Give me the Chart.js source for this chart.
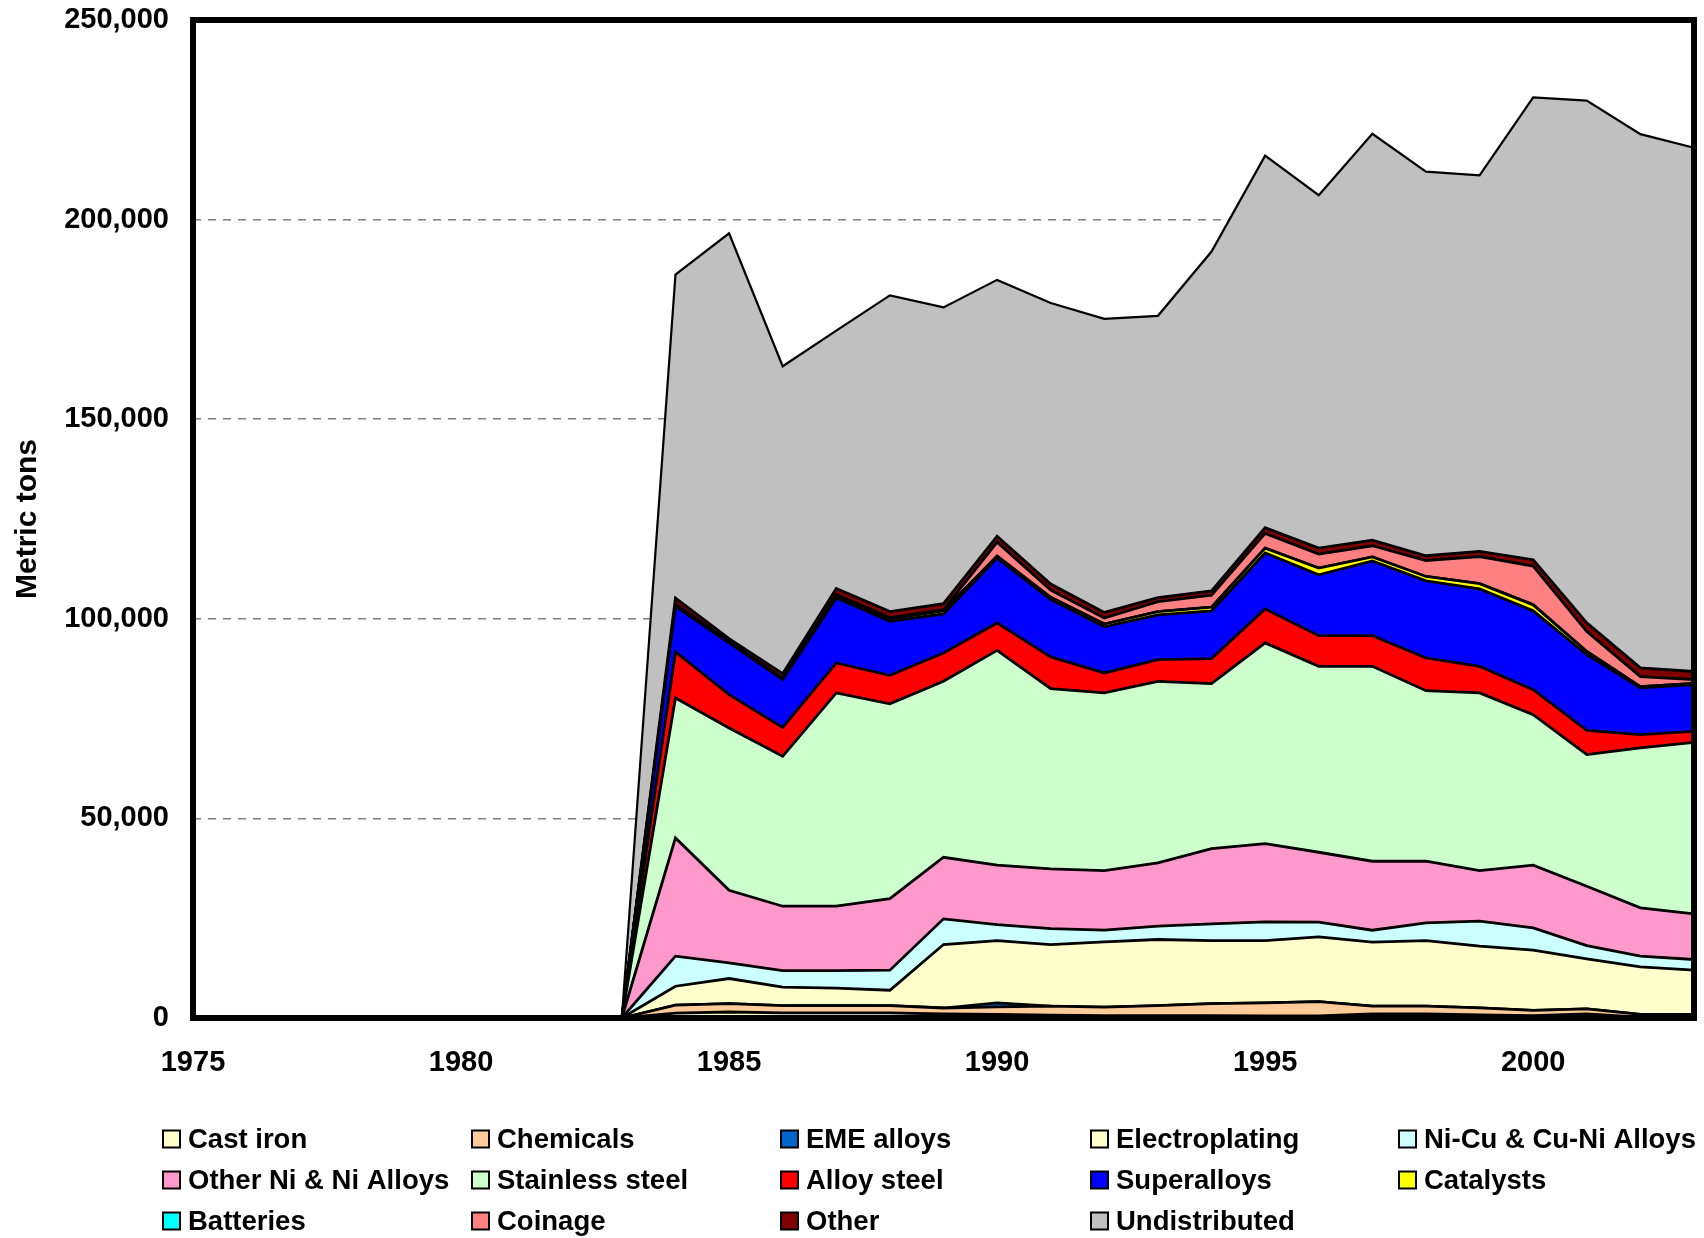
<!DOCTYPE html>
<html>
<head>
<meta charset="utf-8">
<script src="https://cdn.jsdelivr.net/npm/chart.js@4"></script>
<style>
  html, body { margin: 0; padding: 0; background: #ffffff; }
  canvas { display: block; }
</style>
</head>
<body>
<canvas id="c" width="1704" height="1238"></canvas>
<script>
// ---- Data (metric tons) ----
const years = ['1975','1976','1977','1978','1979','1980','1981','1982','1983',
  '1984','1985','1986','1987','1988','1989','1990','1991','1992','1993',
  '1994','1995','1996','1997','1998','1999','2000','2001','2002','2003'];

const zeros1975to1983 = [0,0,0,0,0,0,0,0,0];

const castIron = [...zeros1975to1983, 1200,1500,1300,1300,1300,1000,900,700,600,600,600,500,500,1000,1000,800,600,1000,200,200];
const chemicals = [...zeros1975to1983, 2000,2100,1800,1800,1800,1500,1900,2250,2100,2500,3000,3300,3600,1950,1950,1750,1300,1300,700,700];
const emeAlloys = [...zeros1975to1983, 0,0,0,0,0,0,1000,0,0,0,0,0,0,0,0,0,0,0,0,0];
const electroplating = [...zeros1975to1983, 4760,6290,4610,4360,3860,15900,15600,15450,16380,16560,15800,15600,16230,16040,16450,15430,15080,12520,11920,11070];
const niCuAlloys = [...zeros1975to1983, 7520,3920,4180,4430,5010,6440,4010,4010,2910,3330,4180,4680,3670,3000,4430,6270,5600,3330,2660,2680];
const otherNiAlloys = [...zeros1975to1983, 29640,18190,16110,16110,17950,15430,14860,14950,14910,15870,18860,19610,17520,17280,15440,12680,15690,14860,12110,11440];
const stainlessSteel = [...zeros1975to1983, 35060,40670,37560,53430,48760,44070,53830,45140,44530,45480,41320,50260,46570,48820,42730,44500,37730,32970,40060,42970];
const alloySteel = [...zeros1975to1983, 11520,8330,7240,7510,7160,7100,6850,7940,5010,5430,6260,8510,7690,7690,8190,6660,6260,6090,3340,2760];
const superalloys = [...zeros1975to1983, 11400,12950,11960,16260,13560,9760,16250,14360,11560,11230,11980,14040,15220,18720,19310,19410,19740,18930,11710,11680];
const catalysts = [...zeros1975to1983, 300,200,200,600,600,800,500,600,700,800,900,1200,1700,1000,1100,1300,1500,800,300,300];
const batteries = [...zeros1975to1983, 0,0,0,0,0,0,0,0,0,0,0,0,0,0,0,0,0,0,0,0];
const coinage = [...zeros1975to1983, 300,200,200,300,300,300,3500,1800,1500,2500,3000,3700,3500,2800,4000,6800,9700,5000,2500,1000];
const other = [...zeros1975to1983, 1500,700,1100,1500,1500,1500,1500,1500,1400,1000,1100,1400,1500,1400,1200,1300,1600,2200,2200,2000];
const undistributed = [...zeros1975to1983, 81000,101500,77000,64600,79200,74200,64200,70400,73550,70600,85000,93200,88400,101800,96200,94200,115800,130800,133700,131200];

const yTicks = [0, 50000, 100000, 150000, 200000, 250000];

const seriesDefs = [
  ['Cast iron', castIron, '#FFFFCC'],
  ['Chemicals', chemicals, '#FFCC99'],
  ['EME alloys', emeAlloys, '#0066CC'],
  ['Electroplating', electroplating, '#FFFFCC'],
  ['Ni-Cu & Cu-Ni Alloys', niCuAlloys, '#CCFFFF'],
  ['Other Ni & Ni Alloys', otherNiAlloys, '#FF99CC'],
  ['Stainless steel', stainlessSteel, '#CCFFCC'],
  ['Alloy steel', alloySteel, '#FF0000'],
  ['Superalloys', superalloys, '#0000FF'],
  ['Catalysts', catalysts, '#FFFF00'],
  ['Batteries', batteries, '#00FFFF'],
  ['Coinage', coinage, '#FF8080'],
  ['Other', other, '#800000'],
  ['Undistributed', undistributed, '#C0C0C0']
];

const FONT = '"Liberation Sans", Arial, Helvetica, sans-serif';

const datasets = seriesDefs.map(([label, data, color], i) => ({
  label: label,
  data: data,
  backgroundColor: color,
  borderColor: '#000000',
  borderWidth: i === seriesDefs.length - 1 ? 2.2 : 2.8,
  fill: i === 0 ? 'origin' : '-1',
  pointRadius: 0,
  pointHoverRadius: 0,
  tension: 0,
  borderJoinStyle: 'miter'
}));

const framePlugin = {
  id: 'frame',
  afterDatasetsDraw(chart) {
    const {ctx, chartArea: a} = chart;
    ctx.save();
    ctx.strokeStyle = '#000000';
    ctx.lineWidth = 6;
    ctx.strokeRect(a.left, a.top, a.right - a.left, a.bottom - a.top);
    ctx.restore();
  }
};

const gridLegendPlugin = {
  id: 'gridLegend',
  afterDraw(chart) {
    const ctx = chart.ctx;
    const cols = [163, 472, 781, 1091, 1399];
    const rows = [1139, 1180, 1221];
    ctx.save();
    ctx.font = 'bold 27.5px ' + FONT;
    ctx.textBaseline = 'middle';
    ctx.textAlign = 'left';
    chart.data.datasets.forEach((ds, i) => {
      const x = cols[i % 5];
      const y = rows[Math.floor(i / 5)];
      ctx.fillStyle = ds.backgroundColor;
      ctx.fillRect(x, y - 8.5, 17, 17);
      ctx.lineWidth = 2;
      ctx.strokeStyle = '#000000';
      ctx.strokeRect(x, y - 8.5, 17, 17);
      ctx.fillStyle = '#000000';
      ctx.fillText(ds.label, x + 25, y + 1);
    });
    ctx.restore();
  }
};

new Chart(document.getElementById('c'), {
  type: 'line',
  data: { labels: years, datasets: datasets },
  plugins: [framePlugin, gridLegendPlugin],
  options: {
    responsive: false,
    devicePixelRatio: 1,
    animation: false,
    layout: { autoPadding: false, padding: { top: 20, right: 10, left: 0, bottom: 140 } },
    plugins: {
      legend: { display: false },
      tooltip: { enabled: false },
      filler: { propagate: false }
    },
    elements: { line: { borderCapStyle: 'butt' } },
    scales: {
      x: {
        type: 'category',
        offset: false,
        grid: { display: false, drawTicks: false },
        border: { display: false },
        ticks: {
          autoSkip: false,
          maxRotation: 0,
          minRotation: 0,
          padding: 28,
          color: '#000000',
          font: { family: FONT, size: 29, weight: 'bold' },
          callback: function(value, index) {
            const lbl = this.getLabelForValue(value);
            return (parseInt(lbl, 10) % 5 === 0) ? lbl : '';
          }
        },
        afterFit: (s) => { s.height = 80; s.paddingLeft = 0; s.paddingRight = 0; }
      },
      y: {
        stacked: true,
        min: 0,
        max: 250000,
        afterBuildTicks: (s) => { s.ticks = yTicks.map(v => ({ value: v })); },
        grid: { color: '#808080', lineWidth: 1.5, drawTicks: false },
        border: { display: false, dash: [8, 7] },
        ticks: {
          padding: 24,
          color: '#000000',
          font: { family: FONT, size: 29, weight: 'bold' },
          callback: (v) => Number(v).toLocaleString('en-US')
        },
        title: {
          display: true,
          text: 'Metric tons',
          color: '#000000',
          font: { family: FONT, size: 30, weight: 'bold', lineHeight: 1.2 },
          padding: { top: 10, bottom: 0 }
        },
        afterFit: (s) => { s.width = 193; s.paddingTop = 0; s.paddingBottom = 0; }
      }
    }
  }
});
</script>
</body>
</html>
